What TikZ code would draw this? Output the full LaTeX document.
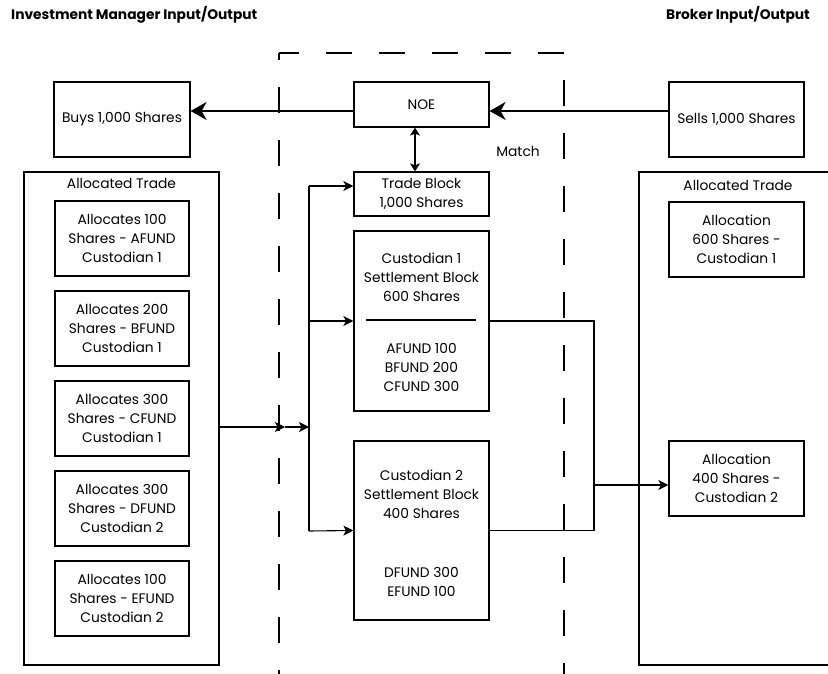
\documentclass[tikz,border=0pt]{standalone}
\usepackage{fontspec}
\setmainfont{Poppins}
\usetikzlibrary{arrows.meta}
\begin{document}
\begin{tikzpicture}[x=1pt,y=-1pt,
  txt/.style={font=\fontsize{13.8}{19}\selectfont, align=center, inner sep=0pt},
  box/.style={draw, line width=1.2pt, inner sep=0pt, align=center,
    font=\fontsize{13.8}{19}\selectfont},
  head/.style={font=\fontsize{13.8}{16}\selectfont\bfseries, anchor=west, inner sep=0pt},
  wire/.style={line width=1.1pt},
  arr/.style={wire, -{Stealth[length=10pt,width=10pt,inset=2.5pt]}},
  bigarr/.style={line width=1.5pt, -{Stealth[length=16pt,width=18pt,inset=5pt]}},
  twoway/.style={wire, {Stealth[length=8pt,width=10pt,inset=2pt]}-{Stealth[length=8pt,width=10pt,inset=2pt]}},
  zone/.style={line width=1.2pt, dash pattern=on 26pt off 27pt}
]
\useasboundingbox (0,0) rectangle (828,674);

% headings
\node[head] (hleft) at (11,15) {Investment Manager Input/Output};
\node[head] (hright) at (666,15) {Broker Input/Output};

% dashed matching zone
\draw[zone, dash phase=6pt] (279,53) -- (564,53);
\draw[zone, dash phase=19pt] (279,53) -- (279,674);
\draw[zone, dash phase=26pt] (564,53) -- (564,674);
\node[txt] (match) at (518,151) {Match};

% order entry
\node[box, minimum width=136, minimum height=75] (buys) at (122,119.5) {Buys 1,000 Shares};
\node[box, minimum width=135, minimum height=45] (noe) at (421.5,104.5) {NOE};
\node[box, minimum width=135, minimum height=75] (sells) at (736.5,119.5) {Sells 1,000 Shares};

% investment manager allocations
\node[draw, line width=1.2pt, minimum width=195, minimum height=493] (ltrade) at (121.5,418.5) {};
\node[txt] (ltitle) at (121.5,183) {Allocated Trade};
\node[box, minimum width=134, minimum height=75] (aa) at (122,238.5) {Allocates 100\\Shares - AFUND\\Custodian 1};
\node[box, minimum width=134, minimum height=75] (ab) at (122,328.5) {Allocates 200\\Shares - BFUND\\Custodian 1};
\node[box, minimum width=134, minimum height=75] (ac) at (122,418.5) {Allocates 300\\Shares - CFUND\\Custodian 1};
\node[box, minimum width=134, minimum height=75] (ad) at (122,508.5) {Allocates 300\\Shares - DFUND\\Custodian 2};
\node[box, minimum width=134, minimum height=75] (ae) at (122,598.5) {Allocates 100\\Shares - EFUND\\Custodian 2};

% blocks
\node[box, minimum width=135, minimum height=44] (trade) at (421.5,194) {Trade Block\\1,000 Shares};
\node[box, minimum width=135, minimum height=180] (c1) at (421.5,321) {};
\node[txt] (c1top) at (421.5,277) {Custodian 1\\Settlement Block\\600 Shares};
\node[txt] (c1bot) at (421.5,367) {AFUND 100\\BFUND 200\\CFUND 300};
\draw[line width=1.3pt] (366,320) -- (476,320);
\node[box, minimum width=135, minimum height=179] (c2) at (421.5,530.5) {};
\node[txt] (c2top) at (421.5,494) {Custodian 2\\Settlement Block\\400 Shares};
\node[txt] (c2bot) at (421.5,582) {DFUND 300\\EFUND 100};

% broker allocations
\node[draw, line width=1.2pt, minimum width=200, minimum height=493] (rtrade) at (739,418.5) {};
\node[txt] (rtitle) at (738,185) {Allocated Trade};
\node[box, minimum width=135, minimum height=75] (r600) at (736.5,239.5) {Allocation\\600 Shares -\\Custodian 1};
\node[box, minimum width=135, minimum height=75] (r400) at (736.5,478.5) {Allocation\\400 Shares -\\Custodian 2};

% helper coordinates
\coordinate (ynoe) at (0,111);
\coordinate (jx) at (309,0);
\coordinate (jtop) at (309,186);
\coordinate (jbot) at (309,531);
\coordinate (yin) at (0,427);
\coordinate (gate) at (285,427);
\coordinate (rx) at (594,0);
\coordinate (yout) at (0,485);

% connectors
\draw[bigarr] (noe.west |- ynoe) -- (buys.east |- ynoe);
\draw[bigarr] (sells.west |- ynoe) -- (noe.east |- ynoe);
\draw[twoway] ([xshift=-6.5pt]noe.south) -- ([xshift=-6.5pt]trade.north);

\draw[arr] (ltrade.east |- yin) -- (gate);
\draw[arr] (gate) -- (jx |- yin);
\draw[wire] (jtop) -- (jbot);
\draw[arr] (jtop) -- (trade.west |- jtop);
\draw[arr] (jx |- c1.west) -- (c1.west);
\draw[arr] (jbot) -- (c2.west);

\draw[wire] (c1.east) -| (rx |- c2.east) -- (c2.east);
\draw[arr] (rx |- yout) -- (r400.west |- yout);
\end{tikzpicture}
\end{document}
